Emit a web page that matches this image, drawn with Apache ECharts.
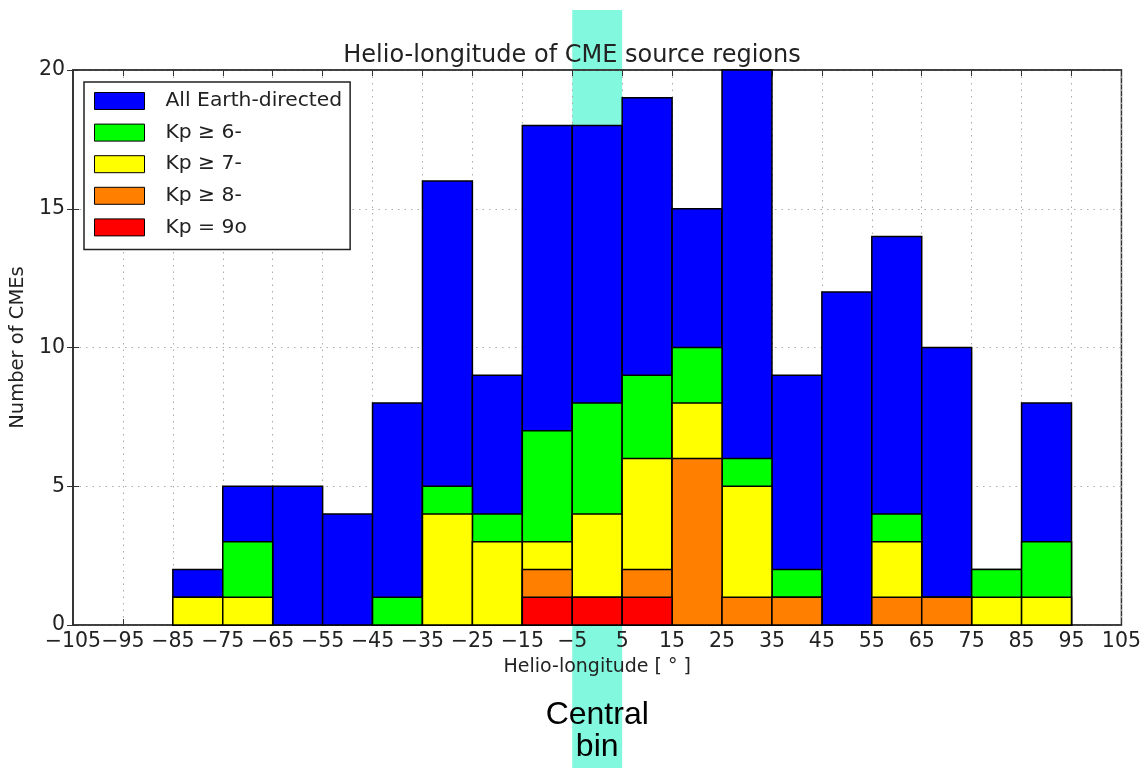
<!DOCTYPE html>
<html>
<head>
<meta charset="utf-8">
<script src="https://cdn.jsdelivr.net/npm/echarts@6/dist/echarts.min.js"></script>
<style>
html,body{margin:0;padding:0;background:#fff;}
#chart{width:1144px;height:768px;}
</style>
</head>
<body>
<div id="chart"></div>
<script>
// Bin left edges (degrees), each bin is 10 degrees wide
const binLeft = [-85,-75,-65,-55,-45,-35,-25,-15,-5,5,15,25,35,45,55,65,75,85];
const binWidth = 10;
// Counts per bin
const allEarth = [2,5,5,4,8,16,9,18,18,19,15,20,9,12,14,10,2,8];
const kp6 = [1,3,0,0,1,5,4,7,8,9,10,6,2,0,4,1,2,3];
const kp7 = [1,1,0,0,0,4,3,3,4,6,8,5,1,0,3,1,1,1];
const kp8 = [0,0,0,0,0,0,0,2,1,2,6,1,1,0,1,1,0,0];
const kp9 = [0,0,0,0,0,0,0,1,1,1,0,0,0,0,0,0,0,0];
const seriesNames = ['All Earth-directed','Kp \u2265 6-','Kp \u2265 7-','Kp \u2265 8-','Kp = 9o'];
const seriesColors = ['#0000ff','#00ff00','#ffff00','#ff7f00','#ff0000'];
const xMinDeg = -105, xMaxDeg = 105, xTickStep = 10;
const yTicks = [0,5,10,15,20];
const centralBin = [-5, 5];

const shift = -xMinDeg; // axis works in shifted units so ticks start at 0
const allSeries = [allEarth,kp6,kp7,kp8,kp9];

function fmt(v){ return String(v).replace('-', '\u2212'); }

const chart = echarts.init(document.getElementById('chart'), null, {renderer:'canvas'});

const series = allSeries.map((vals, si) => ({
  name: seriesNames[si],
  type: 'custom',
  itemStyle: {color: seriesColors[si], borderColor:'#000', borderWidth:1},
  data: vals.map((v,i) => [binLeft[i]+shift, binLeft[i]+binWidth+shift, v]),
  encode: {x:[0,1], y:2},
  renderItem: function(params, api){
    const lo = api.value(0), hi = api.value(1), v = api.value(2);
    if (!v) return null;
    const p0 = api.coord([lo, 0]);
    const p1 = api.coord([hi, v]);
    return {
      type:'rect',
      shape:{x:p0[0], y:p1[1], width:p1[0]-p0[0], height:p0[1]-p1[1]},
      style:{fill: seriesColors[si], stroke:'#000', lineWidth:1.5}
    };
  }
}));

const tickFont = {fontFamily:'DejaVu Sans', fontSize:20.5, color:'#222'};

chart.setOption({
  animation:false,
  backgroundColor:'#fff',
  title:{
    text:'Helio-longitude of CME source regions',
    left:'center', top:39,
    textStyle:{fontFamily:'DejaVu Sans', fontSize:24, fontWeight:'normal', color:'#222'}
  },
  grid:{left:72, right:22, top:70, bottom:143, show:true, borderColor:'#333', borderWidth:1.5, backgroundColor:'transparent'},
  legend:{
    orient:'vertical', left:84, top:82,
    data: seriesNames,
    icon:'rect',
    itemWidth:50, itemHeight:17, itemGap:11.6,
    padding:[9,8,12,10],
    borderColor:'#222', borderWidth:1.5, backgroundColor:'#fff',
    itemStyle:{borderColor:'#000', borderWidth:1},
    textStyle:{fontFamily:'DejaVu Sans', fontSize:20.3, color:'#222', padding:[0,0,0,16]}
  },
  xAxis:[{
    type:'value', min:0, max:xMaxDeg-xMinDeg, interval:xTickStep,
    name:'Helio-longitude [ \u00b0 ]', nameLocation:'middle', nameGap:33,
    nameTextStyle:{fontFamily:'DejaVu Sans', fontSize:19, color:'#222'},
    axisLine:{show:true, onZero:false, lineStyle:{color:'#333', width:1.5}},
    axisTick:{show:true, inside:true, length:6, lineStyle:{color:'#333'}},
    axisLabel:Object.assign({margin:6, formatter:(v)=>fmt(v - shift)}, tickFont),
    splitLine:{show:true, lineStyle:{color:'#aaa', type:[1.5,5], width:1}}
  },{
    type:'value', position:'top', min:0, max:xMaxDeg-xMinDeg, interval:xTickStep,
    axisLine:{show:true, onZero:false, lineStyle:{color:'#333', width:1.5}},
    axisTick:{show:true, inside:true, length:6, lineStyle:{color:'#333'}},
    axisLabel:{show:false}, splitLine:{show:false}
  }],
  yAxis:[{
    type:'value', min:yTicks[0], max:yTicks[yTicks.length-1], interval:yTicks[1]-yTicks[0],
    name:'Number of CMEs', nameLocation:'middle', nameGap:38,
    nameTextStyle:{fontFamily:'DejaVu Sans', fontSize:19.5, color:'#222'},
    axisLine:{show:true, lineStyle:{color:'#333', width:1.5}},
    axisTick:{show:true, inside:true, length:6, lineStyle:{color:'#333'}},
    axisLabel:Object.assign({margin:8}, tickFont),
    splitLine:{show:true, lineStyle:{color:'#aaa', type:[1.5,5], width:1}}
  },{
    type:'value', position:'right', min:yTicks[0], max:yTicks[yTicks.length-1], interval:yTicks[1]-yTicks[0],
    axisLine:{show:true, lineStyle:{color:'#333', width:1.5}},
    axisTick:{show:true, inside:true, length:6, lineStyle:{color:'#333'}},
    axisLabel:{show:false}, splitLine:{show:false}
  }],
  series: series
});

// Central bin highlight band, positioned through the x axis scale
const bx0 = chart.convertToPixel({xAxisIndex:0}, centralBin[0]+shift);
const bx1 = chart.convertToPixel({xAxisIndex:0}, centralBin[1]+shift);
chart.setOption({
  graphic:[{
    type:'rect', z:-1, silent:true,
    shape:{x:bx0, y:10, width:bx1-bx0, height:758},
    style:{fill:'#82f9de'}
  },{
    type:'text', z:10, silent:true,
    x:(bx0+bx1)/2, y:699,
    style:{text:'Central\nbin', fontFamily:'Liberation Sans', fontSize:32, lineHeight:32, fill:'#000', align:'center', verticalAlign:'top'}
  }]
});
</script>
</body>
</html>
